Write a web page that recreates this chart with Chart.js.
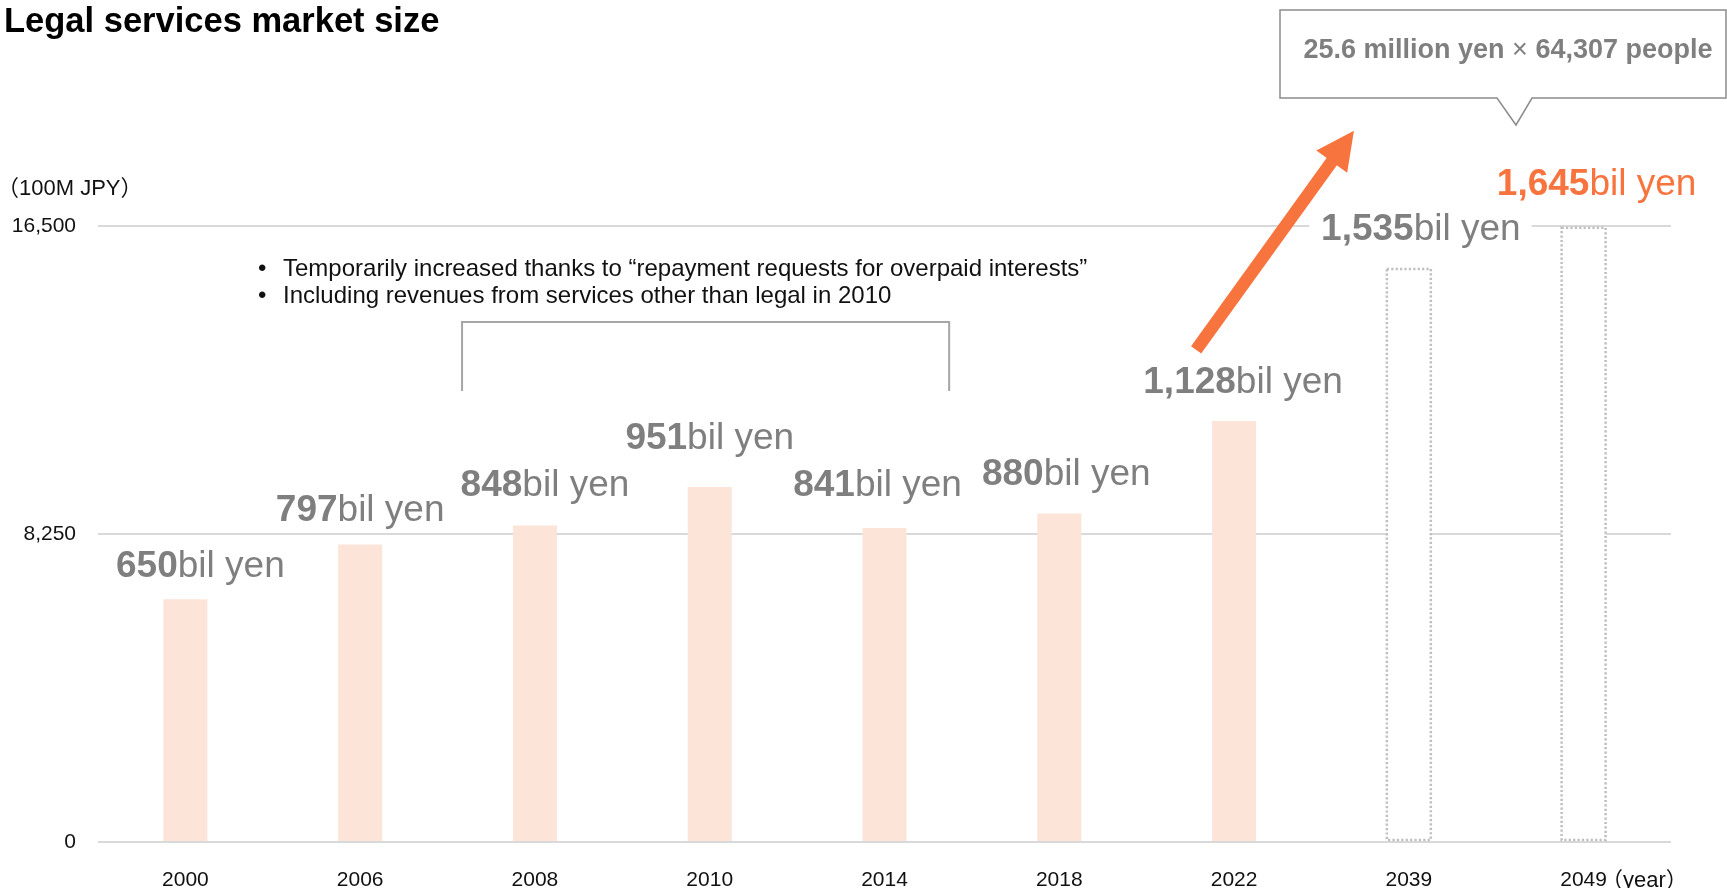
<!DOCTYPE html>
<html>
<head>
<meta charset="utf-8">
<title>Legal services market size</title>
<script src="https://cdn.jsdelivr.net/npm/chart.js@4.4.1/dist/chart.umd.min.js"></script>
<style>
  html, body { margin: 0; padding: 0; background: #fff; }
  #wrap {
    position: relative; width: 1727px; height: 888px; overflow: hidden;
    font-family: "Liberation Sans", Arial, "Noto Sans CJK JP", sans-serif;
  }
  #chart { position: absolute; left: 0; top: 0; }
  .txt { position: absolute; white-space: nowrap; line-height: 1; }
  #title { left: 4px; top: 3px; font-size: 34.5px; font-weight: bold; color: #000; }
  #unit { left: -3px; top: 174px; font-size: 22px; color: #111; font-family: "Noto Sans CJK JP", sans-serif; }
  #unit .l { font-family: "Liberation Sans", Arial, sans-serif; }
  #yearUnit { left: 1601px; top: 866px; font-size: 22px; color: #111; font-family: "Noto Sans CJK JP", sans-serif; }
  #yearUnit .l { font-family: "Liberation Sans", Arial, sans-serif; }
  #notes { left: 258px; top: 254px; font-size: 24px; color: #111; line-height: 27px; }
  #notes .b { display: inline-block; width: 25px; }
  #callout { left: 1280px; width: 456px; top: 36px; text-align: center; font-size: 27px; font-weight: bold; color: #7f7f7f; }
  #callout .x { font-weight: normal; }
</style>
</head>
<body>
<div id="wrap">
  <canvas id="chart" width="1727" height="888"></canvas>
  <div class="txt" id="title">Legal services market size</div>
  <div class="txt" id="unit">（<span class="l">100M JPY</span>）</div>
  <div class="txt" id="yearUnit">（<span class="l">year</span>）</div>
  <div class="txt" id="notes">
    <div><span class="b">•</span>Temporarily increased thanks to “repayment requests for overpaid interests”</div>
    <div><span class="b">•</span>Including revenues from services other than legal in 2010</div>
  </div>
  <div class="txt" id="callout">25.6 million yen <span class="x">×</span> 64,307 people</div>
</div>
<script>
// market size in units of 100M JPY
const years = ['2000', '2006', '2008', '2010', '2014', '2018', '2022', '2039', '2049'];
const actual = [6500, 7970, 8480, 9510, 8410, 8800, 11280, null, null];
const forecast = [null, null, null, null, null, null, null, 15350, 16450];
const yTicks = [0, 8250, 16500];

const FONT = '"Liberation Sans", Arial, sans-serif';
const GREY = '#7f7f7f';
const ORANGE = '#f7743f';

// dotted outline for the projected bars
const outlinePlugin = {
    id: 'outline',
    afterDatasetsDraw(chart) {
        const ctx = chart.ctx;
        const meta = chart.getDatasetMeta(1);
        ctx.save();
        ctx.strokeStyle = '#bfbfbf';
        ctx.lineWidth = 2.5;
        ctx.setLineDash([2.2, 2.2]);
        meta.data.forEach((bar, i) => {
            if (forecast[i] == null) return;
            const { x, y, base, width } = bar.getProps(['x', 'y', 'base', 'width'], true);
            ctx.strokeRect(x - width / 2, y, width, base - y - 1);
        });
        ctx.restore();
    }
};

// "650bil yen" style labels over each bar
const valueLabels = {
    id: 'valueLabels',
    afterDatasetsDraw(chart, args, opts) {
        const ctx = chart.ctx;
        const size = opts.size;
        ctx.save();
        ctx.textBaseline = 'alphabetic';
        years.forEach((yr, i) => {
            const ds = actual[i] != null ? 0 : 1;
            const v = actual[i] != null ? actual[i] : forecast[i];
            const bar = chart.getDatasetMeta(ds).data[i];
            const num = (v / 10).toLocaleString('en-US');
            ctx.font = `bold ${size}px ${FONT}`;
            const w1 = ctx.measureText(num).width;
            ctx.font = `${size}px ${FONT}`;
            const w2 = ctx.measureText('bil yen').width;
            const x0 = bar.x - (w1 + w2) / 2 + opts.shift[i];
            const by = bar.y - opts.lift[i];
            ctx.fillStyle = '#fff';
            ctx.fillRect(x0 - 12, by - size * 0.8, w1 + w2 + 23, size * 1.0);
            ctx.fillStyle = i === years.length - 1 ? ORANGE : GREY;
            ctx.font = `bold ${size}px ${FONT}`;
            ctx.fillText(num, x0, by);
            ctx.font = `${size}px ${FONT}`;
            ctx.fillText('bil yen', x0 + w1, by);
        });
        ctx.restore();
    }
};

// bracket, growth arrow and callout box
const decorations = {
    id: 'decorations',
    afterDraw(chart) {
        const ctx = chart.ctx;
        const xs = chart.scales.x, ys = chart.scales.y;
        ctx.save();

        // bracket over 2008-2014
        const bl = xs.getPixelForValue(1.583), br = xs.getPixelForValue(4.37);
        const bt = ys.getPixelForValue(13930), bb = ys.getPixelForValue(12080);
        ctx.strokeStyle = '#a6a6a6';
        ctx.lineWidth = 2;
        ctx.beginPath();
        ctx.moveTo(bl, bb); ctx.lineTo(bl, bt); ctx.lineTo(br, bt); ctx.lineTo(br, bb);
        ctx.stroke();

        // arrow from 2022 towards the callout
        const tx = xs.getPixelForValue(5.783), ty = ys.getPixelForValue(13180);
        const hx = xs.getPixelForValue(6.686), hy = ys.getPixelForValue(19050);
        const dx = hx - tx, dy = hy - ty, len = Math.hypot(dx, dy);
        const ux = dx / len, uy = dy / len;
        const headLen = 38, headW = 38;
        const bx = hx - ux * headLen, byy = hy - uy * headLen;
        ctx.strokeStyle = ORANGE;
        ctx.fillStyle = ORANGE;
        ctx.lineWidth = 12.5;
        ctx.lineCap = 'butt';
        ctx.beginPath();
        ctx.moveTo(tx, ty); ctx.lineTo(bx + ux * 2, byy + uy * 2);
        ctx.stroke();
        ctx.beginPath();
        ctx.moveTo(hx, hy);
        ctx.lineTo(bx - uy * headW / 2, byy + ux * headW / 2);
        ctx.lineTo(bx + uy * headW / 2, byy - ux * headW / 2);
        ctx.closePath();
        ctx.fill();

        // callout box with pointer
        ctx.strokeStyle = '#8c8c8c';
        ctx.lineWidth = 1.5;
        ctx.beginPath();
        ctx.moveTo(1280, 10);
        ctx.lineTo(1726, 10);
        ctx.lineTo(1726, 98);
        ctx.lineTo(1532, 98);
        ctx.lineTo(1516, 125);
        ctx.lineTo(1497, 98);
        ctx.lineTo(1280, 98);
        ctx.closePath();
        ctx.stroke();
        ctx.restore();
    }
};

new Chart(document.getElementById('chart'), {
    type: 'bar',
    data: {
        labels: years,
        datasets: [
            { data: actual, backgroundColor: '#fce4d8', borderWidth: 0, grouped: false },
            { data: forecast, backgroundColor: '#ffffff', borderWidth: 0, grouped: false }
        ]
    },
    options: {
        responsive: false,
        animation: false,
        devicePixelRatio: 1,
        barPercentage: 1,
        categoryPercentage: 0.2516,
        layout: { padding: { top: 226, right: 56, left: 0, bottom: 0 } },
        plugins: {
            legend: { display: false },
            tooltip: { enabled: false },
            valueLabels: {
                size: 37,
                lift: [22, 23, 29, 38, 32, 28, 28, 29, 33],
                shift: [15, 0, 10, 0, -7, 7, 9, 12, 13]
            }
        },
        scales: {
            x: {
                grid: { display: false },
                border: { display: false },
                ticks: { color: '#111', font: { family: FONT, size: 21 }, padding: 18, maxRotation: 0, autoSkip: false },
                afterFit: s => { s.height = 46; }
            },
            y: {
                min: 0,
                max: 16500,
                grid: { color: '#d9d9d9', lineWidth: 2, drawTicks: false },
                border: { display: false },
                afterBuildTicks: s => { s.ticks = yTicks.map(v => ({ value: v })); },
                ticks: {
                    color: '#111',
                    font: { family: FONT, size: 21 },
                    padding: 22,
                    callback: v => v.toLocaleString('en-US')
                },
                afterFit: s => { s.width = 98; }
            }
        }
    },
    plugins: [outlinePlugin, valueLabels, decorations]
});
</script>
</body>
</html>
